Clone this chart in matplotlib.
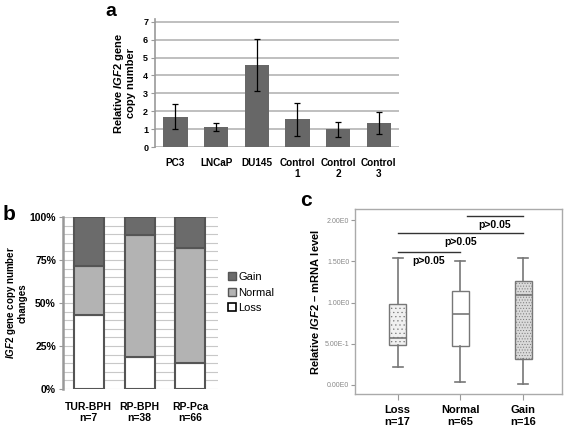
import matplotlib
matplotlib.use("Agg")
import matplotlib.pyplot as plt
from matplotlib.patches import Patch

plt.rcParams.update({
    "font.family": "Liberation Sans",
    "font.weight": "bold",
    "mathtext.fontset": "custom",
    "mathtext.it": "Liberation Sans:italic:bold",
    "mathtext.rm": "Liberation Sans:bold",
    "hatch.linewidth": 0.4,
})

# ---- panel a: relative IGF2 copy number in cell lines ----
cell_lines = ["PC3", "LNCaP", "DU145", "Control\n1", "Control\n2", "Control\n3"]
copy_mean = [1.70, 1.12, 4.60, 1.55, 1.00, 1.35]
copy_lo = [1.00, 0.90, 3.15, 0.62, 0.57, 0.72]
copy_hi = [2.40, 1.33, 6.05, 2.48, 1.42, 1.98]

# ---- panel b: copy number change fractions (%) ----
groups_b = ["TUR-BPH\nn=7", "RP-BPH\nn=38", "RP-Pca\nn=66"]
loss_pct = [42.9, 18.4, 15.2]
normal_pct = [28.6, 71.1, 66.7]
gain_pct = [28.5, 10.5, 18.1]

# ---- panel c: IGF2 mRNA boxplot stats ----
groups_c = ["Loss\nn=17", "Normal\nn=65", "Gain\nn=16"]
whislo = [0.22, 0.04, 0.01]
q1 = [0.48, 0.47, 0.32]
med = [0.57, 0.86, 1.09]
q3 = [0.98, 1.14, 1.26]
whishi = [1.54, 1.51, 1.54]
sig_x0 = [1, 1, 2.1]
sig_x1 = [2, 3, 3]
sig_y = [1.62, 1.85, 2.05]
sig_txt = ["p>0.05", "p>0.05", "p>0.05"]
c_ticks = [0, 0.5, 1.0, 1.5, 2.0]
c_ticklabels = ["0.00E0", "5.00E-1", "1.00E0", "1.50E0", "2.00E0"]

fig = plt.figure(figsize=(5.66, 4.28), dpi=100)

# ================= a =================
ax = fig.add_axes([0.274, 0.6565, 0.431, 0.299])
xa = range(len(cell_lines))
err = [[m - l for m, l in zip(copy_mean, copy_lo)], [h - m for m, h in zip(copy_mean, copy_hi)]]
ax.bar(xa, copy_mean, width=0.6, color="#676767", zorder=2)
ax.errorbar(xa, copy_mean, yerr=err, fmt="none", ecolor="black", elinewidth=0.9,
            capsize=2.5, capthick=0.9, zorder=3)
ax.set_xlim(-0.5, 5.5)
ax.set_ylim(0, 7.15)
ax.set_yticks(range(8))
ax.yaxis.grid(True, color="#b4b4b4", lw=1.2, zorder=0)
ax.set_axisbelow(True)
for s in ("top", "right", "bottom"):
    ax.spines[s].set_visible(False)
ax.spines["left"].set_color("#999999")
ax.spines["left"].set_linewidth(1.2)
ax.tick_params(axis="y", labelsize=6.5, length=3, color="#999999", pad=2)
ax.tick_params(axis="x", length=0, labelsize=7.2, pad=8)
ax.set_xticks(list(xa))
ax.set_xticklabels(cell_lines, linespacing=1.1)
ax.set_ylabel("Relative $\\mathit{IGF2}$ gene\ncopy number", fontsize=8, fontweight="bold",
              labelpad=5, linespacing=1.0)
fig.text(0.196, 0.972, "a", fontsize=14, fontweight="bold", ha="center", va="center")

# ================= b =================
ax = fig.add_axes([0.111, 0.0911, 0.274, 0.402])
xb = range(len(groups_b))
edge = "#555555"
ax.bar(xb, loss_pct, width=0.59, color="white", edgecolor=edge, lw=1.5, zorder=2, label="Loss")
ax.bar(xb, normal_pct, width=0.59, bottom=loss_pct, color="#b3b3b3", edgecolor=edge, lw=1.5,
       zorder=2, label="Normal")
bot = [l + n for l, n in zip(loss_pct, normal_pct)]
ax.bar(xb, gain_pct, width=0.59, bottom=bot, color="#6b6b6b", edgecolor=edge, lw=1.5,
       zorder=2, label="Gain")
ax.set_xlim(-0.51, 2.54)
ax.set_ylim(0, 100)
ax.set_yticks([0, 25, 50, 75, 100])
ax.set_yticklabels(["0%", "25%", "50%", "75%", "100%"])
ax.set_yticks(range(0, 101, 5), minor=True)
ax.yaxis.grid(True, which="both", color="#c8c8c8", lw=0.8, zorder=0)
ax.set_axisbelow(True)
for s in ("top", "right", "bottom"):
    ax.spines[s].set_visible(False)
ax.spines["left"].set_color("#999999")
ax.spines["left"].set_linewidth(1.8)
ax.tick_params(axis="y", which="major", labelsize=7.5, length=3, color="#999999", pad=2)
ax.tick_params(axis="y", which="minor", length=0)
ax.tick_params(axis="x", length=0, labelsize=7.5, pad=9)
ax.set_xticks(list(xb))
ax.set_xticklabels(groups_b, linespacing=1.2)
ax.set_ylabel("$\\mathit{IGF2}$ gene copy number\nchanges", fontsize=7, fontweight="bold",
              labelpad=1, linespacing=1.0)
handles = [Patch(facecolor="#6b6b6b", edgecolor=edge, label="Gain"),
           Patch(facecolor="#b3b3b3", edgecolor=edge, label="Normal"),
           Patch(facecolor="white", edgecolor="black", lw=1.2, label="Loss")]
leg = ax.legend(handles=handles, loc="center left", bbox_to_anchor=(1.03, 0.56), frameon=False,
                fontsize=8, handlelength=0.7, handleheight=0.7, handletextpad=0.2,
                labelspacing=0.5, borderpad=0)
for t in leg.get_texts():
    t.set_fontweight("normal")
fig.text(0.016, 0.5, "b", fontsize=15, fontweight="bold", ha="center", va="center")

# ================= c =================
ax = fig.add_axes([0.627, 0.0794, 0.366, 0.432])
stats = [dict(whislo=a, q1=b, med=c, q3=d, whishi=e, fliers=[])
         for a, b, c, d, e in zip(whislo, q1, med, q3, whishi)]
gc = "#777777"
bp = ax.bxp(stats, positions=[1, 2, 3], widths=0.27, patch_artist=True,
            boxprops=dict(edgecolor=gc, lw=1.0),
            medianprops=dict(color=gc, lw=1.2),
            whiskerprops=dict(color=gc, lw=1.2),
            capprops=dict(color=gc, lw=1.2), capwidths=0.16)
fills = ["#f0f0f0", "white", "#dadada"]
hatches = ["....", None, "......"]
for b, f, h in zip(bp["boxes"], fills, hatches):
    b.set_facecolor(f)
    if h:
        b.set_hatch(h)
for x0, x1, y, t in zip(sig_x0, sig_x1, sig_y, sig_txt):
    ax.plot([x0, x1], [y, y], color="#333333", lw=1.0)
    ax.text((x0 + x1) / 2, y - 0.05, t, ha="center", va="top", fontsize=7.5, fontweight="bold")
ax.set_xlim(0.32, 3.62)
ax.set_ylim(-0.11, 2.135)
ax.set_yticks(c_ticks)
ax.set_yticklabels(c_ticklabels)
ax.tick_params(axis="y", labelsize=5, labelcolor="#888888", color="#999999", length=3, pad=1)
for t in ax.get_yticklabels():
    t.set_fontweight("normal")
ax.set_xticks([1, 2, 3])
ax.set_xticklabels(groups_c, linespacing=1.2)
ax.tick_params(axis="x", labelsize=8, color="#999999", length=4, pad=4)
for s in ax.spines.values():
    s.set_color("#aaaaaa")
    s.set_linewidth(1.0)
ax.set_ylabel("Relative $\\mathit{IGF2}$ – mRNA level", fontsize=8, fontweight="bold", labelpad=3)
fig.text(0.541, 0.532, "c", fontsize=15, fontweight="bold", ha="center", va="center")

fig.savefig("out.png", dpi=100)
